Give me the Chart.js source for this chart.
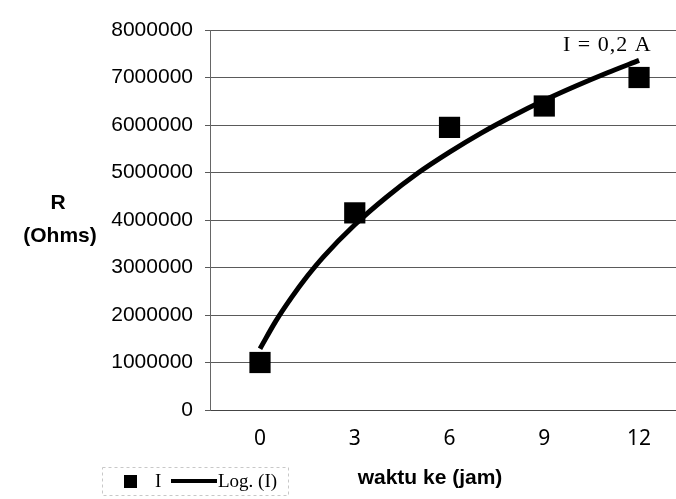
<!DOCTYPE html>
<html>
<head>
<meta charset="utf-8">
<script src="https://cdn.jsdelivr.net/npm/chart.js@4"></script>
<style>
  html, body { margin: 0; background: #fff; overflow: hidden; }
  #chart { display: block; }
</style>
</head>
<body>
<canvas id="chart" width="676" height="499"></canvas>
<script>
// Données
const hours = [0, 3, 6, 9, 12];
const resistance = [1000000, 4150000, 5950000, 6400000, 7000000];
const trendHours = [0, 0.5, 1, 1.5, 2, 3, 4, 5, 6, 7, 8, 9, 10, 11, 12];
const trendValues = [1290000, 1870000, 2370000, 2820000, 3220000, 3900000, 4480000,
    4990000, 5430000, 5830000, 6190000, 6520000, 6820000, 7100000, 7360000];
const yMax = 8000000;
const yStep = 1000000;

const seriesLabel = 'I';
const trendLabel = 'Log. (I)';
const annotationText = 'I = 0,2 A';
const xTitle = 'waktu ke (jam)';
const yTitle = ['R', '(Ohms)'];

// Textes dessinés à la main : titre Y, annotation, légende, titre X
const extras = {
    id: 'extras',
    afterDraw(chart) {
        const ctx = chart.ctx;
        ctx.save();
        ctx.fillStyle = '#000';
        ctx.textBaseline = 'middle';
        ctx.textAlign = 'center';

        ctx.font = 'bold 21px "Liberation Sans", Arial, sans-serif';
        ctx.fillText(yTitle[0], 58, 203);
        ctx.fillText(yTitle[1], 60, 236);

        ctx.font = 'bold 21px "Liberation Sans", Arial, sans-serif';
        ctx.fillText(xTitle, 430, 478);

        ctx.font = '22px "Liberation Serif", serif';
        ctx.letterSpacing = '1px';
        ctx.textAlign = 'left';
        ctx.fillText(annotationText, 563, 45);
        ctx.letterSpacing = '0px';

        // légende
        ctx.strokeStyle = '#c8c8c8';
        ctx.lineWidth = 1;
        ctx.setLineDash([3, 3]);
        ctx.strokeRect(102.5, 467.5, 186, 28);
        ctx.setLineDash([]);
        ctx.fillRect(124, 475, 13, 13);
        ctx.font = '19px "Liberation Serif", serif';
        ctx.fillText(seriesLabel, 155, 482);
        ctx.strokeStyle = '#000';
        ctx.lineWidth = 4;
        ctx.beginPath();
        ctx.moveTo(171, 481);
        ctx.lineTo(217, 481);
        ctx.stroke();
        ctx.fillText(trendLabel, 218, 482);
        ctx.restore();
    }
};

new Chart(document.getElementById('chart'), {
    type: 'scatter',
    data: {
        datasets: [
            {
                label: trendLabel,
                data: trendHours.map((h, i) => ({ x: h, y: trendValues[i] })),
                showLine: true,
                borderColor: '#000',
                borderWidth: 5,
                tension: 0.4,
                cubicInterpolationMode: 'monotone',
                pointRadius: 0,
                order: 2
            },
            {
                label: seriesLabel,
                data: hours.map((h, i) => ({ x: h, y: resistance[i] })),
                pointStyle: 'rect',
                pointRadius: 15,
                pointHoverRadius: 15,
                backgroundColor: '#000',
                borderColor: '#000',
                borderWidth: 0,
                order: 1
            }
        ]
    },
    options: {
        responsive: false,
        animation: false,
        layout: { autoPadding: false, padding: { left: 0, top: 30, right: 0, bottom: 49 } },
        scales: {
            x: {
                type: 'linear',
                min: -1.583,
                max: 13.17,
                afterBuildTicks: scale => { scale.ticks = hours.map(v => ({ value: v })); },
                afterFit: scale => {
                    scale.height = 40;
                    scale.paddingLeft = 0;
                    scale.paddingRight = 0;
                },
                grid: { display: false, drawTicks: false },
                border: { display: true, color: '#444', width: 1 },
                ticks: {
                    padding: 16,
                    color: '#000',
                    font: { family: '"Noto Sans", sans-serif', size: 21 }
                }
            },
            y: {
                min: 0,
                max: yMax,
                afterFit: scale => { scale.width = 210; },
                grid: { color: '#5a5a5a', lineWidth: 1, tickLength: 5 },
                border: { display: true, color: '#666', width: 1 },
                ticks: {
                    stepSize: yStep,
                    padding: 12,
                    color: '#000',
                    font: { family: '"Liberation Sans", Arial, sans-serif', size: 21 },
                    callback: v => String(v)
                }
            }
        },
        plugins: {
            legend: { display: false },
            tooltip: { enabled: false }
        }
    },
    plugins: [extras]
});
</script>
</body>
</html>
